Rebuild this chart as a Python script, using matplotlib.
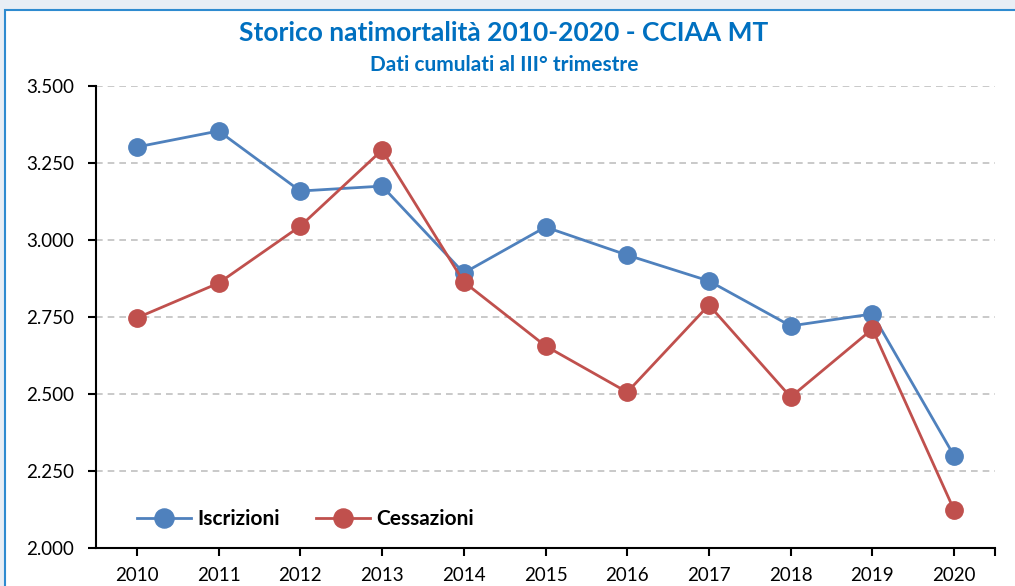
import matplotlib.pyplot as plt
from matplotlib.patches import Rectangle
from matplotlib.ticker import FuncFormatter, FixedLocator

# dati
anni = ['2010', '2011', '2012', '2013', '2014', '2015', '2016', '2017', '2018', '2019', '2020']
iscrizioni = [3302, 3354, 3159, 3175, 2893, 3042, 2951, 2867, 2721, 2760, 2299]
cessazioni = [2747, 2860, 3045, 3292, 2864, 2656, 2506, 2789, 2490, 2711, 2123]

plt.rcParams['font.family'] = ['Lato', 'DejaVu Sans']

blu = '#4F81BD'
rosso = '#C0504D'
titolo_col = '#0070C0'

fig = plt.figure(figsize=(10.15, 5.86), dpi=100)
fig.patch.set_facecolor('#e8eef5')
# riquadro bianco del grafico
fig.patches.append(Rectangle((5 / 1015, -0.05), 1.1, (586 - 10) / 586 + 0.05,
                             transform=fig.transFigure, facecolor='white',
                             edgecolor='#2e8bd0', linewidth=1.5, zorder=0))

ax = fig.add_axes([96 / 1015, 38 / 586, 899 / 1015, 462 / 586])
ax.set_facecolor('none')
ax.set_zorder(2)

x = list(range(len(anni)))
ax.plot(x, iscrizioni, color=blu, lw=2, marker='o', ms=12.5, label='Iscrizioni', zorder=3)
ax.plot(x, cessazioni, color=rosso, lw=2, marker='o', ms=12.5, label='Cessazioni', zorder=3)

ax.set_xlim(-0.5, 10.5)
ax.set_ylim(2000, 3500)
ax.set_yticks([2000, 2250, 2500, 2750, 3000, 3250, 3500])
ax.yaxis.set_major_formatter(FuncFormatter(lambda v, p: f'{v:,.0f}'.replace(',', '.')))
ax.xaxis.set_major_locator(FixedLocator(x + [10.5]))
ax.set_xticklabels(anni + [''])

ax.grid(axis='y', color='#c0c0c0', linestyle=(0, (4, 3)), linewidth=1.2, zorder=1)
for s in ['top', 'right']:
    ax.spines[s].set_visible(False)
for s in ['left', 'bottom']:
    ax.spines[s].set_linewidth(1.5)
ax.tick_params(axis='both', labelsize=13.5, width=1.5, length=6, direction='out', colors='black')
ax.tick_params(axis='x', pad=8)
ax.tick_params(axis='y', pad=10)

leg = ax.legend(loc='lower left', bbox_to_anchor=(0.025, 0.0), ncol=2, frameon=False,
                prop={'weight': 'bold', 'size': 15}, handlelength=2.6, columnspacing=1.7,
                handletextpad=0.3, markerscale=1.1)

fig.text(504 / 1015, 1 - 33 / 586, 'Storico natimortalità 2010-2020 - CCIAA MT', ha='center',
         va='center', fontsize=19, fontweight='bold', color=titolo_col, zorder=3)
fig.text(504 / 1015, 1 - 65 / 586, 'Dati cumulati al III° trimestre', ha='center',
         va='center', fontsize=15, fontweight='bold', color=titolo_col, zorder=3)

fig.savefig('out.png', dpi=100)
